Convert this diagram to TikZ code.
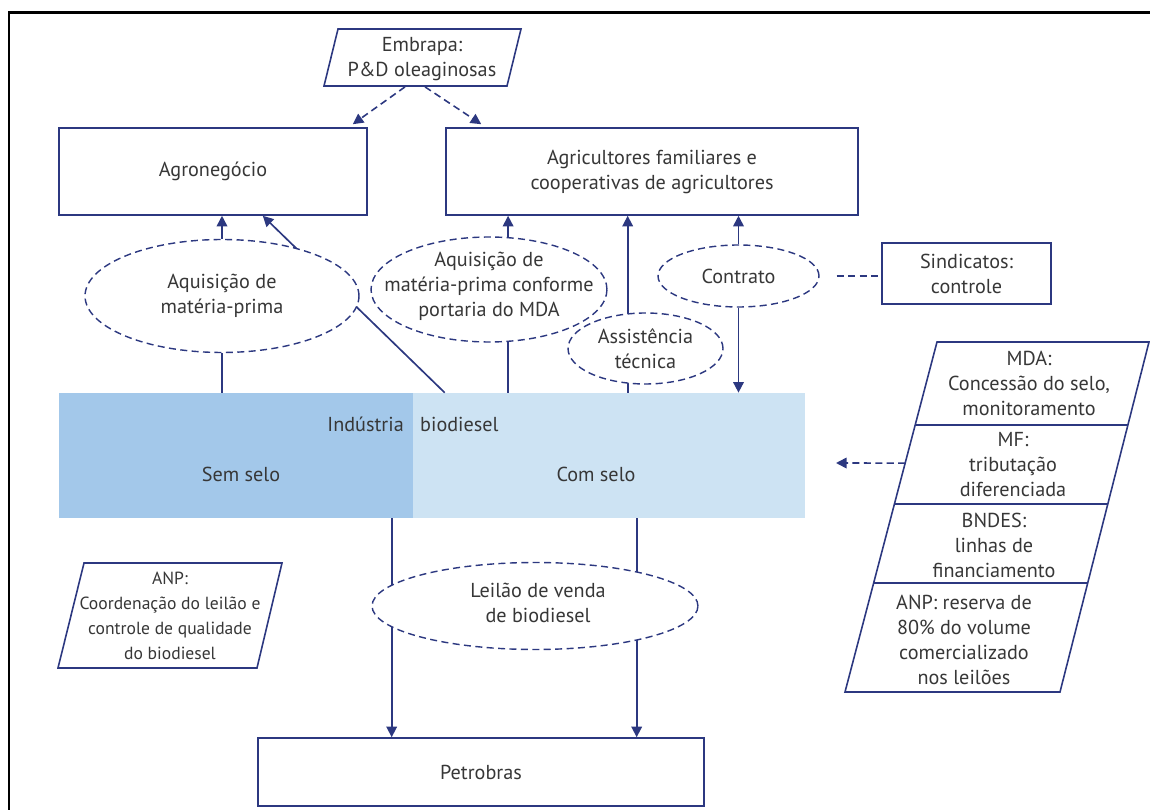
\documentclass[tikz,border=0pt]{standalone}
\usepackage{fontspec}
\setmainfont{PT Sans}
\usetikzlibrary{shapes.geometric,arrows.meta,calc}

\definecolor{navy}{RGB}{44,56,128}
\definecolor{txtgray}{RGB}{55,55,55}
\definecolor{semblue}{RGB}{163,200,234}
\definecolor{comblue}{RGB}{205,227,243}

\tikzset{
	box/.style={draw=navy, line width=0.9pt, fill=white, align=center, inner sep=0pt},
	bubble/.style={ellipse, draw=navy, line width=0.8pt, dash pattern=on 4pt off 2.5pt, fill=white, inner sep=0pt},
	link/.style={navy, line width=0.95pt},
	dlink/.style={navy, line width=0.9pt, dash pattern=on 4pt off 2.5pt},
	band/.style={inner sep=0pt, minimum height=2.5cm},
	small/.style={font=\fontsize{10}{14.2}\selectfont},
}

\begin{document}
\begin{tikzpicture}[x=0.02cm, y=-0.02cm, >={Triangle[length=6pt,width=6pt]},
	every node/.style={font=\fontsize{11.5}{14.2}\selectfont, text=txtgray, align=center}]
	\useasboundingbox (0,0) rectangle (1150,810);
	\draw[line width=1.7pt] (9,810) -- (9,13) -- (1150,13);

	% top row
	\draw[box] (338,29) -- (521,29) -- (507,86) -- (324,86) -- cycle;
	\node (embrapa) at (422,59) {Embrapa:\\P\&D oleaginosas};
	\node[box, minimum width=6.16cm, minimum height=1.74cm] (agro) at (213,171.5) {Agronegócio};
	\node[box, minimum width=8.24cm, minimum height=1.74cm] (agri) at (652,171.5) {Agricultores familiares e\\cooperativas de agricultores};
	\node[box, minimum width=3.38cm, minimum height=1.22cm] (sind) at (966.5,273.5) {Sindicatos:\\controle};
	\draw[dlink,->] ($(embrapa.south)+(-17,0)$) -- ($(agro.north east)+(-15,-3)$);
	\draw[dlink,->] ($(embrapa.south)+(3,0)$) -- ($(agri.north west)+(36,-3)$);

	% industria
	\node[band, fill=semblue, minimum width=7.08cm] (sem) at (236,455.5) {};
	\node[band, fill=comblue, minimum width=7.84cm] (com) at (609,455.5) {};
	\node[anchor=east] (ind) at (410,424) {Indústria};
	\node[anchor=west] (bio) at (414,424) {biodiesel};
	\node (semlbl) at (241,474) {Sem selo};
	\node (comlbl) at (596,474) {Com selo};

	% ligacoes de cima
	\coordinate (diagfoot) at ($(com.north west)+(32,0)$);
	\coordinate (assfoot) at ($(com.north west)+(215,0)$);
	\draw[link,->] (diagfoot) -- ($(agro.south east)+(-105,0)$);
	\draw[link,->] (assfoot) -- (assfoot |- agri.south);

	\node[bubble, minimum width=5.48cm, minimum height=2.26cm] (e1) at (222,296) {};
	\node (e1t) at (e1) {Aquisição de\\matéria-prima};
	\node[bubble, minimum width=4.72cm, minimum height=2.1cm] (e2) at (489,289.5) {};
	\node (e2t) at (489,286) {Aquisição de\\matéria-prima conforme\\portaria do MDA};
	\node[bubble, minimum width=3.1cm, minimum height=1.42cm] (e3) at (645.5,348.5) {};
	\node (e3t) at (e3) {Assistência\\técnica};
	\node[bubble, minimum width=3.22cm, minimum height=1.24cm] (e4) at (738.5,276) {};
	\node (e4t) at (e4) {Contrato};

	\draw[link,->] (e1.north) -- (e1.north |- agro.south);
	\draw[link] (e1.south) -- (e1.south |- sem.north);
	\draw[link,->] (e2.70) -- (e2.70 |- agri.south);
	\draw[link] (e2.-70) -- (e2.-70 |- com.north);
	\draw[link,->] (e4.north) -- (e4.north |- agri.south);
	\draw[link,->] (e4.south) -- (e4.south |- com.north);
	\draw[dlink, shorten <=0.34cm] (e4.east) -- (e4.east -| sind.west);

	% orgaos do governo
	\coordinate (tl) at (937,342);
	\coordinate (tr) at (1149,342);
	\coordinate (br) at (1060,692);
	\coordinate (bl) at (845,692);
	\draw[box] (tl) -- (tr) -- (br) -- (bl) -- cycle;
	\foreach \t in {0.237,0.463,0.689}
		\draw[navy, line width=0.9pt] ($(tl)!\t!(bl)$) -- ($(tr)!\t!(br)$);
	\node (mda) at (1029,383) {MDA:\\Concessão do selo,\\monitoramento};
	\node (mf) at (1013,465) {MF:\\tributação\\diferenciada};
	\node (bndes) at (994,545) {BNDES:\\linhas de\\financiamento};
	\node (anpres) at (964,640) {ANP: reserva de\\80\% do volume\\comercializado\\nos leilões};
	\coordinate (mfedge) at ($(tl)!0.346!(bl)$);
	\coordinate (mftip) at (836,463);
	\draw[dlink,->] (mfedge) -- (mftip);

	% leilao
	\draw[box] (84,563) -- (282,563) -- (257,668) -- (58,668) -- cycle;
	\node[small] (anp) at (170,616) {ANP:\\Coordenação do leilão e\\controle de qualidade\\do biodiesel};
	\node[box, minimum width=8.92cm, minimum height=1.36cm] (petro) at (481,772) {Petrobras};
	\coordinate (semfoot) at ($(com.south west)+(-21,0)$);
	\coordinate (comfoot) at ($(com.south west)+(224,0)$);
	\draw[link,->] (semfoot) -- (semfoot |- petro.north);
	\draw[link,->] (comfoot) -- (comfoot |- petro.north);
	\node[bubble, minimum width=6.52cm, minimum height=1.74cm] (leilao) at (535,606) {};
	\node (leilaot) at (538,603) {Leilão de venda\\de biodiesel};
\end{tikzpicture}
\end{document}
